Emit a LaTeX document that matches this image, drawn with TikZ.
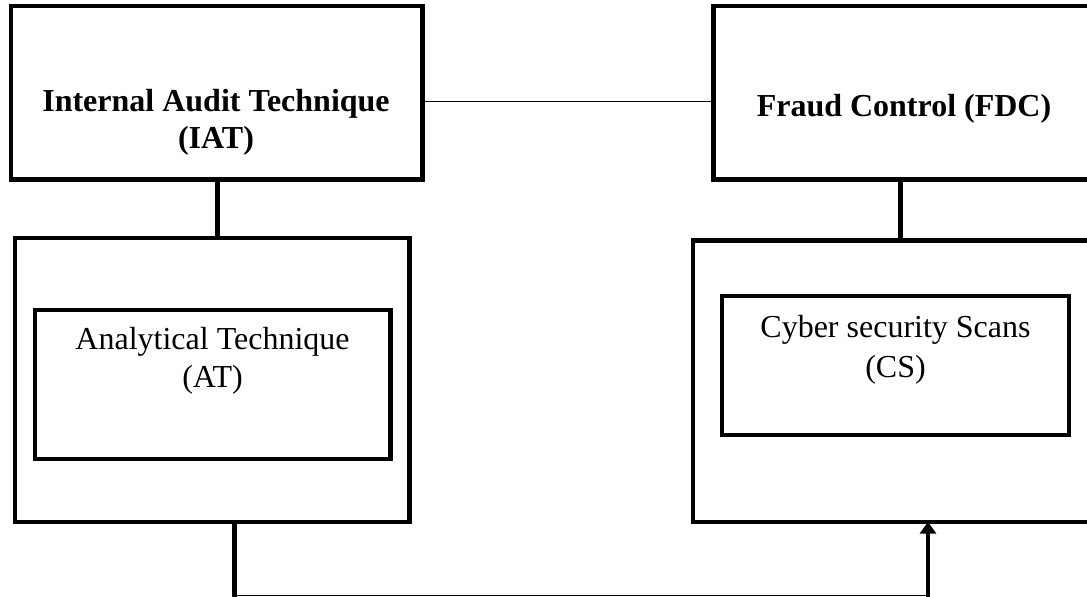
\documentclass[tikz,border=0pt]{standalone}
\usepackage{fontspec}
\setmainfont{Liberation Serif}
\usetikzlibrary{arrows.meta}
\begin{document}
\begin{tikzpicture}[x=1pt,y=-1pt,
  box/.style={draw=black,line width=4.2pt,inner sep=0pt,outer sep=0pt,rectangle},
  lbl/.style={font=\fontsize{32}{38}\selectfont,align=center,inner sep=0pt,anchor=base},
  blbl/.style={font=\fontsize{32}{36.6}\selectfont\bfseries,align=center,inner sep=0pt,anchor=base},
  conn/.style={draw=black,line width=1.5pt},
  bar/.style={draw=black,line width=4.2pt}]
\clip (0,0) rectangle (1087,597);
\fill[white] (0,0) rectangle (1087,597);
% boxes
\node[box,minimum width=411.5pt,minimum height=173.5pt] (iat) at (216.75,92.75) {};
\node[box,minimum width=381pt,minimum height=173.5pt] (fdc) at (904,92.75) {};
\node[box,minimum width=394.8pt,minimum height=284pt] (atout) at (212.1,380) {};
\node[box,minimum width=355.8pt,minimum height=149pt] (atin) at (212.6,384.2) {};
\node[box,minimum width=407pt,minimum height=281.5pt] (csout) at (896.5,381.25) {};
\node[box,minimum width=346.7pt,minimum height=139pt] (csin) at (895.35,365.5) {};
% labels (base anchor = baseline of the last line)
\node[blbl] (iatt) at (216,148.3) {Internal Audit Technique\\(IAT)};
\node[blbl] (fdct) at (904,116.7) {Fraud Control (FDC)};
\node[lbl] (att) at (212.5,387.3) {Analytical Technique\\(AT)};
\node[lbl,font=\fontsize{32}{40}\selectfont] (cst) at (895.5,377.3) {Cyber security Scans\\(CS)};
% connectors
\coordinate (h1) at (422.5,101.7);
\draw[conn] (h1 -| iat.east) -- (h1 -| fdc.west);
\draw[bar] (217.5,0 |- iat.south) -- (217.5,0 |- atout.north);
\draw[bar] (900.5,0 |- fdc.south) -- (900.5,0 |- csout.north);
\coordinate (bl) at (234.5,597);
\coordinate (br) at (928,597);
\draw[bar] (bl |- atout.south) -- (bl);
\draw[conn] ([yshift=1.5pt]bl) -- ([yshift=1.5pt]br);
\draw[bar,-{Triangle[width=16pt,length=11.5pt]}] (br) -- (br |- csout.south);
\end{tikzpicture}
\end{document}
